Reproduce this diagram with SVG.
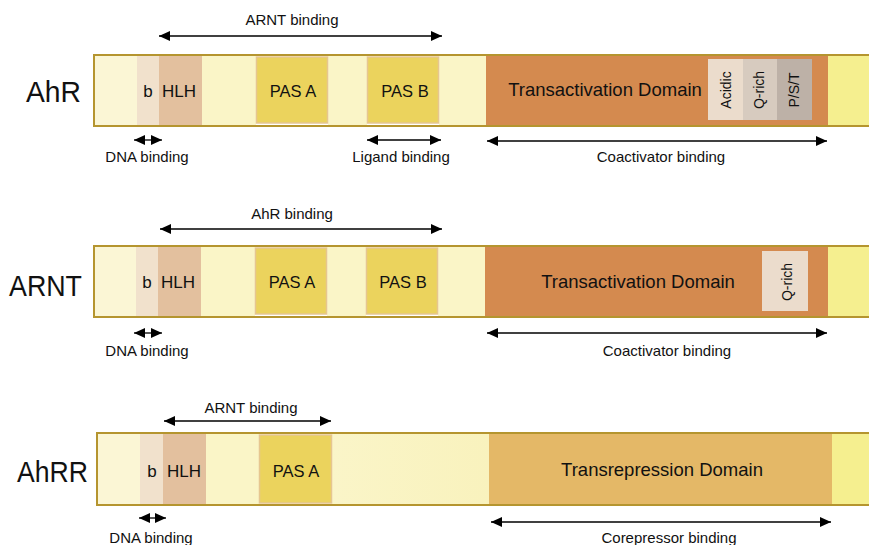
<svg xmlns="http://www.w3.org/2000/svg" width="869" height="545" viewBox="0 0 869 545">
<defs>
<marker id="ah" viewBox="0 0 11 10" refX="11" refY="5" markerWidth="11" markerHeight="10" markerUnits="userSpaceOnUse" orient="auto-start-reverse">
<path d="M0,0 L11,5 L0,10 z" fill="#000"/>
</marker>
<linearGradient id="crm" x1="0" x2="1" y1="0" y2="0">
<stop offset="0" stop-color="#faf5c8"/>
<stop offset="1" stop-color="#f9f2bd"/>
</linearGradient>
</defs>
<style>
text{font-family:"Liberation Sans",Arial,sans-serif;fill:#111}
.big{font-size:30px}
.dom{font-size:17px;text-anchor:middle}
.pas{font-size:16.5px;text-anchor:middle}
.td{font-size:18.5px;text-anchor:middle}
.vt{font-size:14px;text-anchor:middle}
.lbl{font-size:15px;text-anchor:middle}
.c0{fill:#fbf6d5}
.cb{fill:#f1e1cc}
.ch{fill:#e3c09e}
.cm{fill:#faf5c7}
.cp{fill:#ebd35d;stroke:#e6c690;stroke-width:1.5}
.ct{fill:#d48a4f}
.cy{fill:#f5ef8f}
.cr{fill:#e4b867}
.bd{fill:none;stroke:#b5952f;stroke-width:2}
.ar{stroke:#000;stroke-width:1.3;fill:none;marker-start:url(#ah);marker-end:url(#ah)}
</style>
<g id="AhR">
<text class="big" x="26" y="102" textLength="55" lengthAdjust="spacingAndGlyphs">AhR</text>
<rect class="c0" x="94" y="55" width="43" height="71"/>
<rect class="cb" x="137" y="55" width="22" height="71"/>
<rect class="ch" x="159" y="55" width="43" height="71"/>
<rect class="cm" x="202" y="55" width="54" height="71"/>
<rect class="cm" x="328" y="55" width="39" height="71"/>
<rect class="cm" x="439" y="55" width="47" height="71"/>
<rect class="cp" x="256.5" y="57" width="71" height="66"/>
<rect class="cp" x="367.5" y="57" width="71" height="66"/>
<rect class="ct" x="486" y="55" width="342" height="71"/>
<rect class="cy" x="828" y="55" width="45" height="71"/>
<rect x="708" y="59" width="35" height="61" fill="#ebdccc"/>
<rect x="743" y="59" width="34" height="61" fill="#d7cbbf"/>
<rect x="777" y="59" width="35" height="61" fill="#bdb1a7"/>
<rect class="bd" x="94" y="55" width="790" height="71"/>
<text class="dom" x="148" y="97">b</text>
<text class="dom" x="179" y="97">HLH</text>
<text class="pas" x="293" y="97">PAS A</text>
<text class="pas" x="405" y="97">PAS B</text>
<text class="td" x="605" y="96">Transactivation Domain</text>
<text class="vt" transform="translate(731,90) rotate(-90)">Acidic</text>
<text class="vt" transform="translate(764,90) rotate(-90)">Q-rich</text>
<text class="vt" transform="translate(799,90) rotate(-90)">P/S/T</text>
</g>
<g id="ARNT">
<text class="big" x="9" y="296" textLength="73" lengthAdjust="spacingAndGlyphs">ARNT</text>
<rect class="c0" x="94" y="246" width="42" height="71"/>
<rect class="cb" x="136" y="246" width="22" height="71"/>
<rect class="ch" x="158" y="246" width="43" height="71"/>
<rect class="cm" x="201" y="246" width="54" height="71"/>
<rect class="cm" x="327" y="246" width="39" height="71"/>
<rect class="cm" x="438" y="246" width="47" height="71"/>
<rect class="cp" x="255.5" y="248" width="71" height="66"/>
<rect class="cp" x="366.5" y="248" width="71" height="66"/>
<rect class="ct" x="485" y="246" width="343" height="71"/>
<rect class="cy" x="828" y="246" width="45" height="71"/>
<rect x="762" y="251" width="46" height="60" fill="#ebdccc"/>
<rect class="bd" x="94" y="246" width="790" height="71"/>
<text class="dom" x="147" y="288">b</text>
<text class="dom" x="178" y="288">HLH</text>
<text class="pas" x="292" y="288">PAS A</text>
<text class="pas" x="403" y="288">PAS B</text>
<text class="td" x="638" y="288">Transactivation Domain</text>
<text class="vt" transform="translate(792,282) rotate(-90)">Q-rich</text>
</g>
<g id="AhRR">
<text class="big" x="17" y="482" textLength="71" lengthAdjust="spacingAndGlyphs">AhRR</text>
<rect class="c0" x="97" y="433" width="43" height="72"/>
<rect class="cb" x="140" y="433" width="23" height="72"/>
<rect class="ch" x="163" y="433" width="43" height="72"/>
<rect class="cm" x="206" y="433" width="53" height="72"/>
<rect x="332" y="433" width="157" height="72" fill="url(#crm)"/>
<rect class="cp" x="259.5" y="435" width="72" height="68"/>
<rect class="cr" x="489" y="433" width="343" height="72"/>
<rect class="cy" x="832" y="433" width="41" height="72"/>
<rect class="bd" x="97" y="433" width="787" height="72"/>
<text class="dom" x="152" y="477">b</text>
<text class="dom" x="184" y="477">HLH</text>
<text class="pas" x="296" y="477">PAS A</text>
<text class="td" x="662" y="476">Transrepression Domain</text>
</g>
<g id="connectors">
<line class="ar" x1="159" y1="36" x2="442" y2="36"/>
<line class="ar" x1="134" y1="140" x2="162" y2="140"/>
<line class="ar" x1="367" y1="140" x2="441" y2="140"/>
<line class="ar" x1="487" y1="141" x2="827" y2="141"/>
<line class="ar" x1="160" y1="229" x2="442" y2="229"/>
<line class="ar" x1="134" y1="333" x2="162" y2="333"/>
<line class="ar" x1="487" y1="333" x2="827" y2="333"/>
<line class="ar" x1="164" y1="421" x2="331" y2="421"/>
<line class="ar" x1="139" y1="518" x2="166" y2="518"/>
<line class="ar" x1="491" y1="522" x2="831" y2="522"/>
</g>
<g id="labels">
<text class="lbl" x="292" y="25">ARNT binding</text>
<text class="lbl" x="147" y="162">DNA binding</text>
<text class="lbl" x="401" y="162">Ligand binding</text>
<text class="lbl" x="661" y="162">Coactivator binding</text>
<text class="lbl" x="292" y="219">AhR binding</text>
<text class="lbl" x="147" y="356">DNA binding</text>
<text class="lbl" x="667" y="356">Coactivator binding</text>
<text class="lbl" x="251" y="413">ARNT binding</text>
<text class="lbl" x="151" y="543">DNA binding</text>
<text class="lbl" x="669" y="543">Corepressor binding</text>
</g>
</svg>
